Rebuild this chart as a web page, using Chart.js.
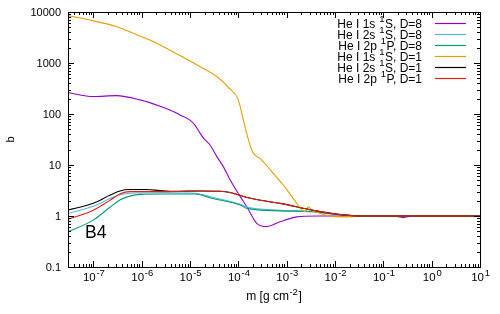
<!DOCTYPE html>
<html><head><meta charset="utf-8">
<script src="https://cdn.jsdelivr.net/npm/chart.js@4/dist/chart.umd.min.js"></script>
<style>html,body{margin:0;padding:0;background:#fff}</style>
</head><body>
<canvas id="c" width="500" height="314"></canvas>
<script>
// ---- data ----
const seriesLevels = ['1s', '2s', '2p'];
const seriesTerms = ['S', 'S', 'P'];
const seriesD = ['8', '8', '8', '1', '1', '1'];
const seriesColors = ['#9400d3', '#56b4e9', '#009e73', '#e69f00', '#000000', '#e51e10'];

// He I 1s 1S, D=8
const m_1s_D8 = [3e-8, 1e-7, 3e-7, 9.3e-7, 2.5e-6, 4.6e-6, 6.2e-6, 1e-5, 1.28e-5, 1.5e-5, 1.89e-5, 2.6e-5, 3.6e-5, 4.9e-5, 6.8e-5, 1.1e-4, 1.51e-4, 2.4e-4, 3.9e-4, 7.3e-4, 1.62e-3, 4.2e-3, 0.158, 0.26, 0.4, 10];
const b_1s_D8 = [263, 220, 229, 189, 140, 111, 96, 76, 60, 47, 34, 24.7, 14.6, 9.3, 5.07, 2.4, 1.5, 0.72, 0.62, 0.77, 0.96, 1.0, 1.0, 0.93, 1.0, 1.0];
// He I 2s 1S, D=8
const m_2s_D8 = [3e-8, 1e-7, 2.24e-7, 3.55e-7, 5.75e-7, 3.16e-6, 1.26e-5, 3e-5, 1.1e-4, 1.51e-4, 7.3e-4, 3.55e-3, 1e-2, 3.3e-2, 10];
const b_2s_D8 = [1.12, 1.55, 2.2, 2.6, 2.8, 2.85, 2.8, 2.3, 1.7, 1.5, 1.3, 1.22, 1.08, 1.0, 1.0];
// He I 2p 1P, D=8
const m_2p_D8 = [3e-8, 1e-7, 2.24e-7, 3.55e-7, 5.75e-7, 9.3e-7, 3.16e-6, 1.26e-5, 3e-5, 1.1e-4, 1.51e-4, 7.3e-4, 3.55e-3, 1e-2, 3.3e-2, 10];
const b_2p_D8 = [0.49, 0.83, 1.5, 2.05, 2.45, 2.65, 2.7, 2.7, 2.2, 1.64, 1.41, 1.26, 1.21, 1.08, 1.0, 1.0];
// He I 1s 1S, D=1
const m_1s_D1 = [3e-8, 1e-7, 3e-7, 1e-6, 2.04e-6, 1e-5, 1.38e-5, 3.6e-5, 6.3e-5, 1e-4, 1.27e-4, 1.49e-4, 1.89e-4, 2.22e-4, 2.8e-4, 4.6e-4, 8.5e-4, 1.38e-3, 2.4e-3, 2.8e-3, 3.3e-3, 4.2e-3, 6.3e-3, 1e-2, 2e-2, 3.3e-2, 6.3e-2, 10];
const b_1s_D1 = [8500, 6700, 5200, 3260, 2450, 1090, 920, 543, 330, 189, 76.6, 42, 19.7, 15.7, 13.5, 8.0, 4.05, 2.2, 1.21, 1.51, 1.3, 1.18, 1.05, 0.97, 0.96, 0.99, 1.0, 1.0];
// He I 2s 1S, D=1
const m_2s_D1 = [3e-8, 1e-7, 2.24e-7, 3.55e-7, 5.75e-7, 1.26e-6, 2.4e-6, 5e-6, 1.58e-5, 4.27e-5, 6.76e-5, 1.51e-4, 7.3e-4, 3.55e-3, 1e-2, 3.3e-2, 10];
const b_2s_D1 = [1.31, 1.77, 2.57, 3.1, 3.3, 3.3, 3.15, 3.05, 3.1, 3.05, 2.9, 2.3, 1.77, 1.3, 1.1, 1.0, 1.0];
// He I 2p 1P, D=1
const m_2p_D1 = [3e-8, 1e-7, 2.24e-7, 3.55e-7, 5.75e-7, 3.16e-6, 1.58e-5, 4.27e-5, 6.76e-5, 1.51e-4, 7.3e-4, 3.55e-3, 1e-2, 3.3e-2, 10];
const b_2p_D1 = [0.86, 1.3, 2.05, 2.7, 3.0, 3.0, 3.1, 3.05, 2.9, 2.3, 1.77, 1.3, 1.1, 1.0, 1.0];

const seriesM = [m_1s_D8, m_2s_D8, m_2p_D8, m_1s_D1, m_2s_D1, m_2p_D1];
const seriesB = [b_1s_D8, b_2s_D8, b_2p_D8, b_1s_D1, b_2s_D1, b_2p_D1];

const xTickExponents = ['-7', '-6', '-5', '-4', '-3', '-2', '-1', '0', '1'];
const yTickValues = [0.1, 1, 10, 100, 1000, 10000];
const yTickLabels = ['0.1', '1', '10', '100', '1000', '10000'];
const xMin = 3e-8, xMax = 10, yMin = 0.1, yMax = 10000;
const panelLabel = 'B4';

// ---- build ----
const datasets = seriesM.map((ms, i) => ({
  label: 'He I ' + seriesLevels[i % 3] + ' 1' + seriesTerms[i % 3] + ', D=' + seriesD[i],
  data: ms.map((m, j) => ({x: m, y: seriesB[i][j]})),
  borderColor: seriesColors[i],
  borderWidth: 1.1,
  pointRadius: 0,
  cubicInterpolationMode: 'monotone',
  fill: false,
  order: 5 - i
}));

const FONT = '"Liberation Sans", Arial, Helvetica, sans-serif';

function drawRich(ctx, parts, x, y, align, size, supSize, gap) {
  let w = 0;
  const ws = parts.map(p => { ctx.font = (p.sup ? supSize : size) + 'px ' + FONT; const mw = ctx.measureText(p.t).width + (p.sup ? gap : 0); w += mw; return mw; });
  let cx = align === 'right' ? x - w : align === 'center' ? x - w / 2 : x;
  parts.forEach((p, i) => {
    ctx.font = (p.sup ? supSize : size) + 'px ' + FONT;
    ctx.textAlign = 'left';
    ctx.textBaseline = 'alphabetic';
    ctx.fillText(p.t, cx + (p.sup ? gap / 2 : 0), p.sup ? y - size * 0.42 : y);
    cx += ws[i];
  });
}

const decor = {
  id: 'decor',
  afterDatasetsDraw(chart) {
    const ctx = chart.ctx, a = chart.chartArea;
    const xs = chart.scales.x, ys = chart.scales.y;
    ctx.save();
    ctx.strokeStyle = '#000';
    ctx.fillStyle = '#000';
    ctx.lineWidth = 1;
    // ticks (inside, mirrored)
    ctx.beginPath();
    for (let d = -8; d <= 1; d++) for (let k = 1; k <= 9; k++) {
      const v = k * Math.pow(10, d);
      if (v < xMin * 0.999 || v > xMax * 1.001) continue;
      const px = Math.round(xs.getPixelForValue(v)) + 0.5;
      const len = k === 1 ? 6 : 3;
      ctx.moveTo(px, a.bottom); ctx.lineTo(px, a.bottom - len);
      ctx.moveTo(px, a.top); ctx.lineTo(px, a.top + len);
    }
    for (let d = -1; d <= 4; d++) for (let k = 1; k <= 9; k++) {
      const v = k * Math.pow(10, d);
      if (v < yMin * 0.999 || v > yMax * 1.001) continue;
      const py = Math.round(ys.getPixelForValue(v)) + 0.5;
      const len = k === 1 ? 6 : 3;
      ctx.moveTo(a.left, py); ctx.lineTo(a.left + len, py);
      ctx.moveTo(a.right, py); ctx.lineTo(a.right - len, py);
    }
    ctx.stroke();
    // border
    ctx.strokeRect(Math.round(a.left) + 0.5, Math.round(a.top) + 0.5, Math.round(a.right - a.left), Math.round(a.bottom - a.top));
    // y tick labels
    ctx.font = '11px ' + FONT;
    ctx.textAlign = 'right';
    ctx.textBaseline = 'middle';
    yTickValues.forEach((v, i) => ctx.fillText(yTickLabels[i], a.left - 7, ys.getPixelForValue(v) + 0.5));
    // x tick labels
    xTickExponents.forEach(e => {
      const px = xs.getPixelForValue(Math.pow(10, Number(e)));
      drawRich(ctx, [{t: '10'}, {t: e, sup: true}], px + 1, a.bottom + 14, 'center', 11.5, 9.5, 1.5);
    });
    // axis titles
    drawRich(ctx, [{t: 'm [g cm'}, {t: '-2', sup: true}, {t: ']'}], (a.left + a.right) / 2, a.bottom + 33, 'center', 12, 9.5, 1);
    ctx.save();
    ctx.translate(14, (a.top + a.bottom) / 2);
    ctx.rotate(-Math.PI / 2);
    ctx.font = '11px ' + FONT; ctx.textAlign = 'center'; ctx.textBaseline = 'alphabetic';
    ctx.fillText('b', 0, 0);
    ctx.restore();
    // panel label
    ctx.font = '17.5px ' + FONT; ctx.textAlign = 'left'; ctx.textBaseline = 'alphabetic';
    ctx.fillText(panelLabel, 85, 238);
    // legend
    chart.data.datasets.forEach((ds, i) => {
      const y = a.top + 11 + 11 * i;
      ctx.fillStyle = '#000';
      drawRich(ctx, [{t: 'He I ' + seriesLevels[i % 3] + ' '}, {t: '1', sup: true}, {t: seriesTerms[i % 3] + ', D=' + seriesD[i]}], 422, y + 4.5, 'right', 12, 9.5, 1);
      ctx.strokeStyle = ds.borderColor; ctx.lineWidth = 1.2;
      ctx.beginPath(); ctx.moveTo(435, y + 0.5); ctx.lineTo(466, y + 0.5); ctx.stroke();
    });
    ctx.restore();
  }
};

new Chart(document.getElementById('c'), {
  type: 'line',
  data: {datasets},
  options: {
    responsive: false,
    devicePixelRatio: 1,
    animation: false,
    layout: {padding: {left: 68, right: 20, top: 12, bottom: 47}},
    plugins: {legend: {display: false}, tooltip: {enabled: false}},
    scales: {
      x: {type: 'logarithmic', min: xMin, max: xMax, display: false},
      y: {type: 'logarithmic', min: yMin, max: yMax, display: false}
    }
  },
  plugins: [decor]
});
</script>
</body></html>
